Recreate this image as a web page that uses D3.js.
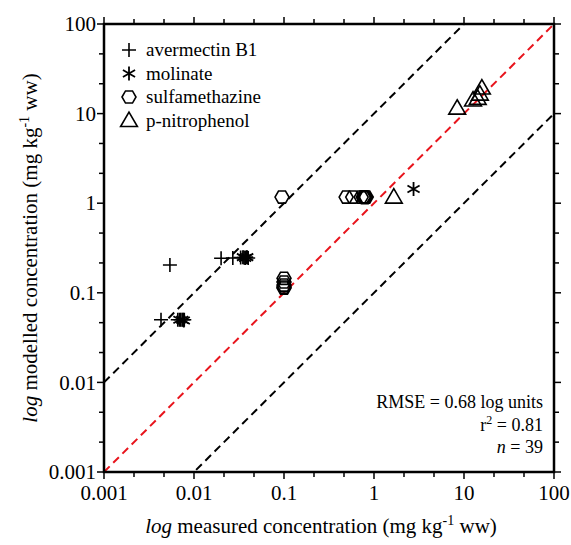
<!DOCTYPE html>
<html>
<head>
<meta charset="utf-8">
<script src="https://cdn.jsdelivr.net/npm/d3@7"></script>
<style>
  body { margin: 0; background: #fff; }
</style>
</head>
<body>
<div id="chart"></div>
<script>
// measured vs modelled concentrations (mg/kg ww), one array per compound
const avermectin = [
  [0.0054, 0.204], [0.0043, 0.05], [0.0066, 0.05], [0.0071, 0.05], [0.0076, 0.05],
  [0.0078, 0.05], [0.020, 0.243], [0.027, 0.245], [0.033, 0.248], [0.036, 0.248],
  [0.038, 0.25], [0.040, 0.245]
];
const molinate = [
  [2.75, 1.44], [0.0069, 0.05], [0.0074, 0.05], [0.0077, 0.049],
  [0.035, 0.25], [0.037, 0.245], [0.039, 0.25]
];
const sulfamethazine = [
  [0.095, 1.17], [0.1, 0.145], [0.1, 0.132], [0.1, 0.122], [0.1, 0.116], [0.1, 0.113],
  [0.49, 1.17], [0.58, 1.17], [0.72, 1.17], [0.76, 1.17], [0.78, 1.17],
  [0.80, 1.17], [0.82, 1.17], [0.79, 1.15]
];
const nitrophenol = [
  [1.66, 1.17], [8.4, 11.5], [12.6, 14.2], [14.2, 14.8], [15.0, 16.5], [15.8, 19.3]
];

const seriesNames = ['avermectin B1', 'molinate', 'sulfamethazine', 'p-nitrophenol'];
const seriesData = [avermectin, molinate, sulfamethazine, nitrophenol];
const seriesShapes = ['plus', 'star', 'hex', 'tri'];

const majorTicks = [0.001, 0.01, 0.1, 1, 10, 100];
const majorLabels = ['0.001', '0.01', '0.1', '1', '10', '100'];

// reference lines: 1:1 and a factor of 10 either side
const refLines = [
  { factor: 1, color: '#e8141c' },
  { factor: 10, color: '#000' },
  { factor: 0.1, color: '#000' }
];

const statLines = ['RMSE = 0.68 log units', 'r2 = 0.81', 'n = 39'];

const width = 571, height = 545;
const margin = { left: 104, right: 17, top: 24, bottom: 73 };

const svg = d3.select('#chart').append('svg')
  .attr('width', width)
  .attr('height', height);

const x = d3.scaleLog().domain([0.001, 100])
  .range([margin.left, width - margin.right]);
const y = d3.scaleLog().domain([0.001, 100])
  .range([height - margin.bottom, margin.top]);

// minor ticks at thirds of each decade
const minorTicks = [];
for (let d = -3; d < 2; d++) {
  minorTicks.push(Math.pow(10, d + 1 / 3), Math.pow(10, d + 2 / 3));
}

const plot = svg.append('g');

// clip for reference lines
svg.append('clipPath').attr('id', 'clip')
  .append('rect')
  .attr('x', x(0.001)).attr('y', y(100))
  .attr('width', x(100) - x(0.001)).attr('height', y(0.001) - y(100));

plot.append('g').attr('clip-path', 'url(#clip)')
  .selectAll('line')
  .data(refLines)
  .enter().append('line')
  .attr('x1', d => x(0.001))
  .attr('y1', d => y(0.001 * d.factor))
  .attr('x2', d => x(100))
  .attr('y2', d => y(100 * d.factor))
  .attr('stroke', d => d.color)
  .attr('stroke-width', 2)
  .attr('stroke-dasharray', '8,5');

// frame
const x0 = x(0.001), x1 = x(100), y0 = y(0.001), y1 = y(100);
plot.append('rect')
  .attr('x', x0).attr('y', y1)
  .attr('width', x1 - x0).attr('height', y0 - y1)
  .attr('fill', 'none')
  .attr('stroke', '#000')
  .attr('stroke-width', 2.5);

// ticks pointing outward on all sides
const tickG = plot.append('g').attr('stroke', '#000').attr('stroke-width', 1.5);
function addTicks(vals, len) {
  vals.forEach(v => {
    tickG.append('line').attr('x1', x(v)).attr('x2', x(v)).attr('y1', y0).attr('y2', y0 + len);
    tickG.append('line').attr('x1', x(v)).attr('x2', x(v)).attr('y1', y1).attr('y2', y1 - len);
    tickG.append('line').attr('y1', y(v)).attr('y2', y(v)).attr('x1', x0).attr('x2', x0 - len);
    tickG.append('line').attr('y1', y(v)).attr('y2', y(v)).attr('x1', x1).attr('x2', x1 + len);
  });
}
addTicks(majorTicks, 7);
addTicks(minorTicks, 5);

// everything textual goes in one serif group
const txt = svg.append('g').style('font-family', '"Liberation Serif"');

// tick labels
txt.append('g').selectAll('text')
  .data(majorTicks)
  .enter().append('text')
  .style('font-family', '"Liberation Serif"')
  .attr('x', d => x(d))
  .attr('y', y0 + 28)
  .attr('text-anchor', 'middle')
  .attr('font-size', 21)
  .text((d, i) => majorLabels[i]);

txt.append('g').selectAll('text')
  .data(majorTicks)
  .enter().append('text')
  .style('font-family', '"Liberation Serif"')
  .attr('x', x0 - 8)
  .attr('y', d => y(d))
  .attr('dy', '0.34em')
  .attr('text-anchor', 'end')
  .attr('font-size', 21)
  .text((d, i) => majorLabels[i]);

// marker paths
function shapePath(type, s) {
  if (type === 'plus') {
    return `M${-s},0H${s}M0,${-s}V${s}`;
  }
  if (type === 'star') {
    const a = s * 0.866, b = s * 0.5;
    return `M0,${-s}V${s}M${-a},${-b}L${a},${b}M${-a},${b}L${a},${-b}`;
  }
  if (type === 'hex') {
    const h = s * 0.866;
    return `M${-s},0L${-s / 2},${-h}L${s / 2},${-h}L${s},0L${s / 2},${h}L${-s / 2},${h}Z`;
  }
  // triangle
  return `M0,${-s * 1.05}L${s * 1.05},${s * 0.75}L${-s * 1.05},${s * 0.75}Z`;
}
const shapeSize = { plus: 7, star: 7, hex: 7, tri: 8 };
const shapeStroke = { plus: 1.6, star: 1.8, hex: 1.6, tri: 1.6 };

seriesData.forEach((data, i) => {
  const type = seriesShapes[i];
  plot.append('g').selectAll('path')
    .data(data)
    .enter().append('path')
    .attr('transform', d => `translate(${x(d[0])},${y(d[1])})`)
    .attr('d', shapePath(type, shapeSize[type]))
    .attr('fill', 'none')
    .attr('stroke', '#000')
    .attr('stroke-width', shapeStroke[type]);
});

// legend
const legend = svg.append('g').attr('transform', 'translate(129,50)');
seriesNames.forEach((name, i) => {
  const type = seriesShapes[i];
  const row = legend.append('g').attr('transform', `translate(0,${i * 23.5})`);
  row.append('path')
    .attr('d', shapePath(type, shapeSize[type]))
    .attr('fill', 'none')
    .attr('stroke', '#000')
    .attr('stroke-width', shapeStroke[type]);
  row.append('text')
    .style('font-family', '"Liberation Serif"')
    .attr('x', 17)
    .attr('dy', '0.33em')
    .attr('font-size', 19)
    .text(name);
});

// stats box text
const stats = txt.append('g').attr('font-size', 18).attr('text-anchor', 'end');
stats.append('text').style('font-family', '"Liberation Serif"')
  .attr('x', 543).attr('y', 408).text(statLines[0]);
const r2 = stats.append('text').style('font-family', '"Liberation Serif"')
  .attr('x', 543).attr('y', 431);
r2.append('tspan').text('r');
r2.append('tspan').attr('dy', -7).attr('font-size', 12).text('2');
r2.append('tspan').attr('dy', 7).text(' = 0.81');
const nLine = stats.append('text').style('font-family', '"Liberation Serif"')
  .attr('x', 543).attr('y', 453);
nLine.append('tspan').attr('font-style', 'italic').text('n');
nLine.append('tspan').text(' = 39');

// axis titles
const xt = txt.append('text')
  .style('font-family', '"Liberation Serif"')
  .attr('x', (x0 + x1) / 2 - 8)
  .attr('y', 533)
  .attr('text-anchor', 'middle')
  .attr('font-size', 21);
xt.append('tspan').attr('font-style', 'italic').text('log');
xt.append('tspan').text(' measured concentration (mg kg');
xt.append('tspan').attr('dy', -8).attr('font-size', 14).text('-1');
xt.append('tspan').attr('dy', 8).text(' ww)');

const yt = txt.append('text')
  .style('font-family', '"Liberation Serif"')
  .attr('transform', `translate(37,${(y0 + y1) / 2}) rotate(-90)`)
  .attr('text-anchor', 'middle')
  .attr('font-size', 21);
yt.append('tspan').attr('font-style', 'italic').text('log');
yt.append('tspan').text(' modelled concentration (mg kg');
yt.append('tspan').attr('dy', -8).attr('font-size', 14).text('-1');
yt.append('tspan').attr('dy', 8).text(' ww)');
</script>
</body>
</html>
